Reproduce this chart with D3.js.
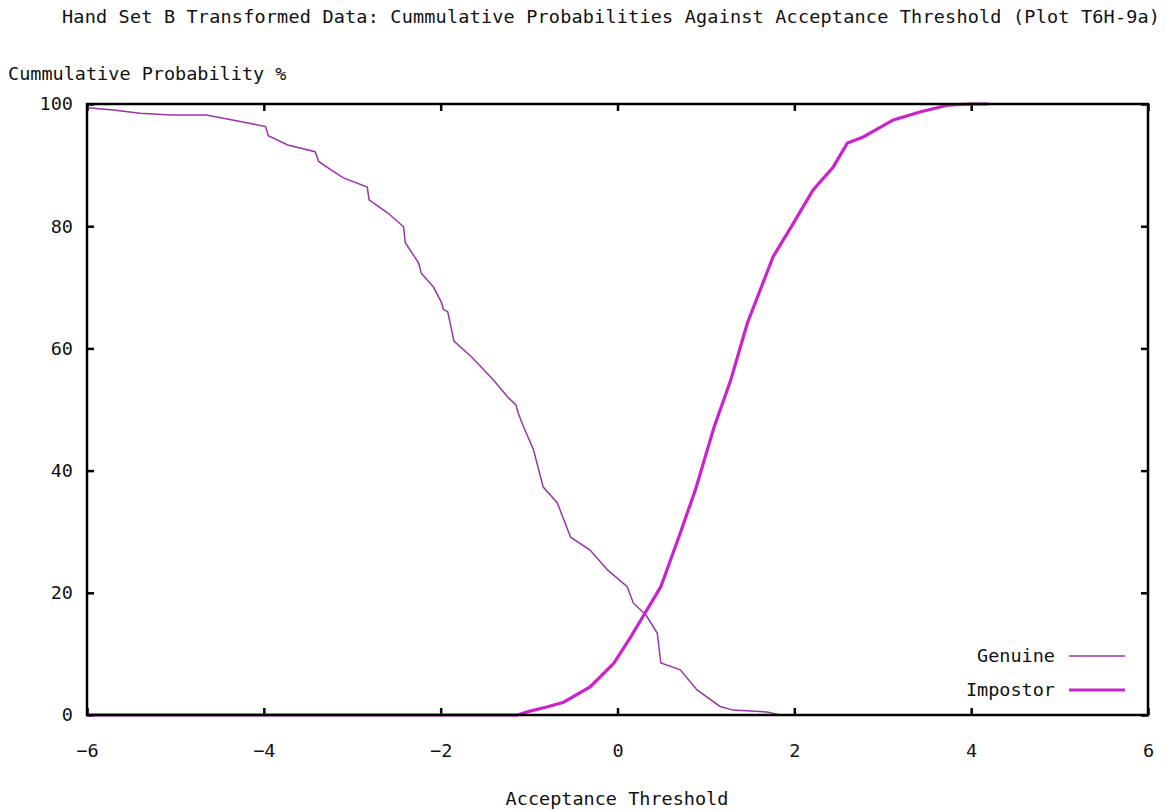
<!DOCTYPE html>
<html>
    <head>
        <meta charset="UTF-8">
        <script src="https://d3js.org/d3.v7.min.js"></script>

        <style>
            body {
                margin: 0;
                background: white;
            }

            svg text {
                font-family: "DejaVu Sans Mono", "Liberation Mono", monospace;
                font-size: 18.5px;
                fill: #111;
            }

            .border {
                fill: none;
                stroke: black;
                stroke-width: 2.5px;
            }

            .tick line {
                stroke: black;
                stroke-width: 2.5px;
            }

            .genuine {
                fill: none;
                stroke: #9a34aa;
                stroke-width: 1.5px;
            }

            .impostor {
                fill: none;
                stroke: #cc22cc;
                stroke-width: 3.2px;
            }
        </style>
    </head>
    <body>
        <svg></svg>

        <script>
            const xTicks = [-6, -4, -2, 0, 2, 4, 6];
            const yTicks = [0, 20, 40, 60, 80, 100];

            // Genuine: cumulative %
            const genuineThreshold = [-6.0, -5.7, -5.4, -5.05, -4.65, -4.4, -4.18, -3.98, -3.95, -3.73,
                -3.42, -3.38, -3.24, -3.10, -2.83, -2.81, -2.60, -2.42, -2.40, -2.25,
                -2.22, -2.08, -1.99, -1.97, -1.92, -1.85, -1.65, -1.40, -1.24, -1.15,
                -1.12, -1.06, -0.95, -0.84, -0.68, -0.53, -0.31, -0.11, 0.11, 0.18,
                0.32, 0.45, 0.49, 0.71, 0.90, 1.16, 1.31, 1.69, 1.84, 4.2];
            const genuineProb = [99.4, 99.0, 98.5, 98.2, 98.2, 97.5, 96.9, 96.3, 94.8, 93.3,
                92.2, 90.6, 89.2, 87.9, 86.4, 84.3, 82.2, 79.9, 77.3, 74.0,
                72.3, 70.0, 67.5, 66.4, 66.0, 61.2, 58.6, 54.8, 52.0, 50.8,
                49.3, 47.1, 43.4, 37.3, 34.7, 29.1, 27.0, 23.7, 21.0, 18.3,
                16.4, 13.4, 8.5, 7.4, 4.1, 1.4, 0.8, 0.5, 0.0, 0.0];

            const impostorThreshold = [-6.0, -1.13, -1.0, -0.8, -0.61, -0.31, -0.04, 0.15, 0.30, 0.49,
                0.71, 0.88, 1.09, 1.28, 1.47, 1.76, 1.99, 2.21, 2.44, 2.60,
                2.78, 3.12, 3.42, 3.73, 4.0, 4.2];
            const impostorProb = [0, 0, 0.6, 1.3, 2.1, 4.6, 8.5, 12.8, 16.4, 21.0,
                29.8, 36.8, 47.0, 54.8, 64.2, 75.0, 80.5, 85.9, 89.7, 93.6,
                94.6, 97.4, 98.7, 99.8, 100, 100];

            const series = [
                {name: "Genuine", cls: "genuine", xs: genuineThreshold, ys: genuineProb},
                {name: "Impostor", cls: "impostor", xs: impostorThreshold, ys: impostorProb}
            ];

            function drawGraph () {
                const width = 1166,
                    height = 810,
                    margin = {top: 104, right: 18, bottom: 95, left: 87};

                const svg = d3.select("svg")
                    .attr("width", width)
                    .attr("height", height);

                const x = d3.scaleLinear()
                    .domain([-6, 6])
                    .range([margin.left, width - margin.right]);

                const y = d3.scaleLinear()
                    .domain([0, 100])
                    .range([height - margin.bottom, margin.top]);

                const tickLen = 7;

                // Axes, ticks pointing inwards like gnuplot
                svg.append("g")
                    .attr("transform", `translate(0, ${y(0)})`)
                    .call(d3.axisBottom(x).tickValues(xTicks).tickSizeInner(-tickLen).tickSizeOuter(0).tickPadding(29))
                    .call(g => g.select(".domain").remove());

                svg.append("g")
                    .attr("transform", `translate(0, ${y(100)})`)
                    .call(d3.axisTop(x).tickValues(xTicks).tickSizeInner(-tickLen).tickSizeOuter(0).tickFormat(""))
                    .call(g => g.select(".domain").remove());

                svg.append("g")
                    .attr("transform", `translate(${x(-6)}, 0)`)
                    .call(d3.axisLeft(y).tickValues(yTicks).tickSizeInner(-tickLen).tickSizeOuter(0).tickPadding(14))
                    .call(g => g.select(".domain").remove());

                svg.append("g")
                    .attr("transform", `translate(${x(6)}, 0)`)
                    .call(d3.axisRight(y).tickValues(yTicks).tickSizeInner(-tickLen).tickSizeOuter(0).tickFormat(""))
                    .call(g => g.select(".domain").remove());

                svg.selectAll("g").attr("font-family", null).attr("font-size", null);

                // Curves
                const line = d3.line()
                    .x(d => x(d[0]))
                    .y(d => y(d[1]));

                svg.append("g")
                    .selectAll("path")
                    .data(series)
                    .join("path")
                        .attr("class", d => d.cls)
                        .attr("d", d => line(d.xs.map((v, i) => [v, d.ys[i]])));

                // Border
                svg.append("rect")
                    .attr("class", "border")
                    .attr("x", x(-6))
                    .attr("y", y(100))
                    .attr("width", x(6) - x(-6))
                    .attr("height", y(0) - y(100));

                // Legend
                const legend = svg.append("g")
                    .selectAll("g")
                    .data(series)
                    .join("g")
                        .attr("transform", (d, i) => `translate(1055, ${656 + i * 34})`);

                legend.append("text")
                    .attr("text-anchor", "end")
                    .attr("dy", "0.35em")
                    .text(d => d.name);

                legend.append("line")
                    .attr("class", d => d.cls)
                    .attr("x1", 14)
                    .attr("x2", 70);

                // Titles
                svg.append("text")
                    .attr("x", 62)
                    .attr("y", 17)
                    .attr("dy", "0.35em")
                    .attr("textLength", 1098)
                    .attr("lengthAdjust", "spacing")
                    .text("Hand Set B Transformed Data: Cummulative Probabilities Against Acceptance Threshold (Plot T6H-9a)");

                svg.append("text")
                    .attr("x", 8)
                    .attr("y", 74)
                    .attr("dy", "0.35em")
                    .text("Cummulative Probability %");

                svg.append("text")
                    .attr("x", 617)
                    .attr("y", 799)
                    .attr("dy", "0.35em")
                    .attr("text-anchor", "middle")
                    .text("Acceptance Threshold");
            }

            drawGraph();
        </script>
    </body>
</html>
